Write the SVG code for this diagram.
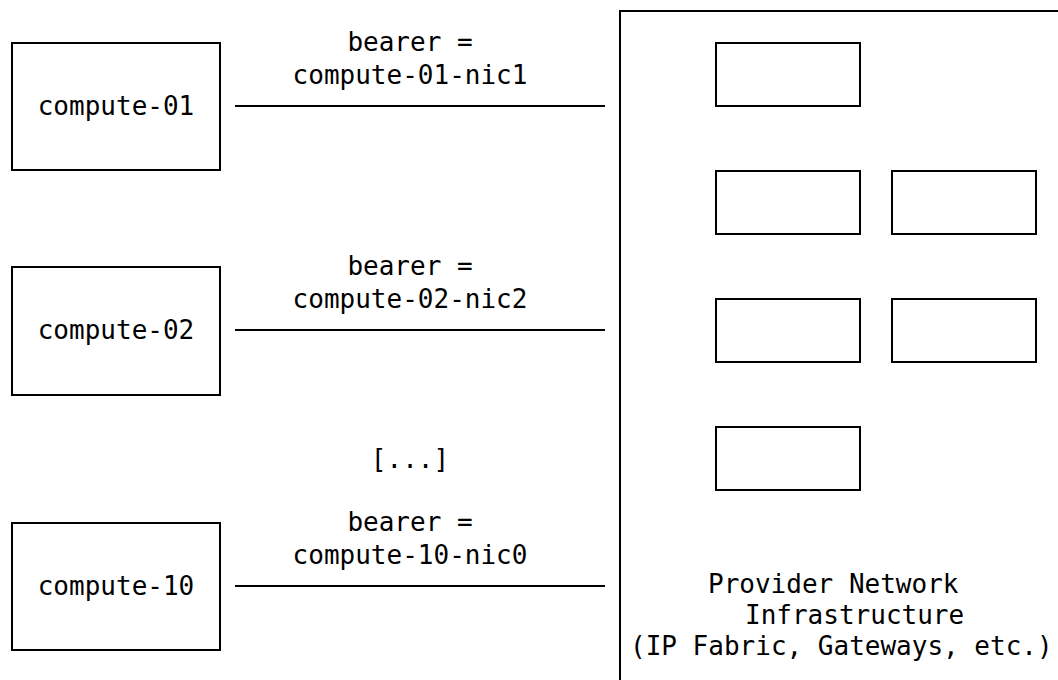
<svg xmlns="http://www.w3.org/2000/svg" width="1058" height="680" viewBox="0 0 1058 680">
<style>
.box{fill:#fff;stroke:#000;stroke-width:2}
.ln{stroke:#000;stroke-width:2;fill:none}
text{font-family:"DejaVu Sans Mono","Liberation Mono",monospace;font-size:26px;fill:#000}
.c{text-anchor:middle}
</style>
<rect width="1058" height="680" fill="#fff"/>
<g id="provider">
<rect class="box" x="620" y="11" width="460" height="700"/>
<rect class="box" x="716" y="43" width="144" height="63"/>
<rect class="box" x="716" y="171" width="144" height="63"/>
<rect class="box" x="892" y="171" width="144" height="63"/>
<rect class="box" x="716" y="299" width="144" height="63"/>
<rect class="box" x="892" y="299" width="144" height="63"/>
<rect class="box" x="716" y="427" width="144" height="63"/>
<text x="708" y="593">Provider Network</text>
<text x="745" y="624">Infrastructure</text>
<text x="630" y="655">(IP Fabric, Gateways, etc.)</text>
</g>
<g id="compute-01">
<rect class="box" x="12" y="43" width="208" height="127"/>
<text class="c" x="116" y="115">compute-01</text>
</g>
<g id="compute-02">
<rect class="box" x="12" y="267" width="208" height="128"/>
<text class="c" x="116" y="339">compute-02</text>
</g>
<g id="compute-10">
<rect class="box" x="12" y="523" width="208" height="127"/>
<text class="c" x="116" y="595">compute-10</text>
</g>
<g id="connectors">
<line class="ln" x1="235" y1="106" x2="605" y2="106"/>
<line class="ln" x1="235" y1="330" x2="605" y2="330"/>
<line class="ln" x1="235" y1="586" x2="605" y2="586"/>
<text class="c" x="410" y="51">bearer =</text>
<text class="c" x="410" y="84">compute-01-nic1</text>
<text class="c" x="410" y="275">bearer =</text>
<text class="c" x="410" y="308">compute-02-nic2</text>
<text class="c" x="410" y="468">[...]</text>
<text class="c" x="410" y="531">bearer =</text>
<text class="c" x="410" y="564">compute-10-nic0</text>
</g>
</svg>
